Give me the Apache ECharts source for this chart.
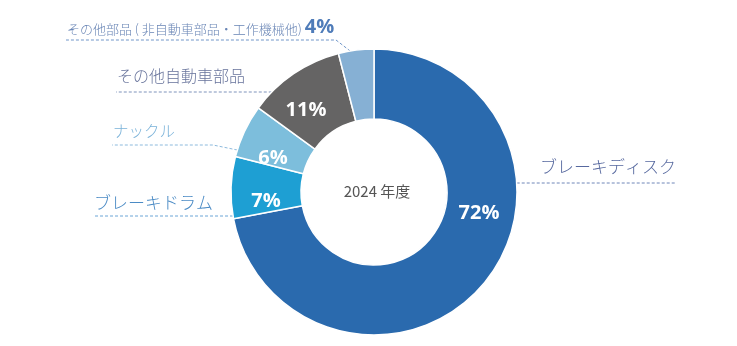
<!DOCTYPE html>
<html>
<head>
<meta charset="utf-8">
<script src="https://cdn.jsdelivr.net/npm/echarts@6/dist/echarts.min.js"></script>
<style>
  html, body { margin: 0; padding: 0; background: #ffffff; }
  #chart { width: 737px; height: 346px; }
</style>
</head>
<body>
<div id="chart"></div>
<script>
// Share of sales by product, fiscal 2024 (%)
const categories = ['ブレーキディスク', 'ブレーキドラム', 'ナックル', 'その他自動車部品', 'その他部品 ( 非自動車部品・工作機械他)'];
const shares = [72, 7, 6, 11, 4];
const yearLabel = '2024 年度';

// Styling
const sliceColors = ['#2a6aae', '#1e9fd3', '#7dbedc', '#656464', '#86b0d4'];
const nameColors  = ['#57699f', '#4b8bc5', '#7ab2d9', '#67739b', '#6a86b6'];
const lineColors  = ['#6f86b8', '#6aa5d6', '#8dbadd', '#7f93bb', '#7096c9'];
const nameFontSizes = [17, 17, 15.5, 16, 13];

const CX = 374, CY = 192, R_IN = 73, R_OUT = 143;
const JP_FONT = '"Noto Sans CJK JP", "Noto Sans", sans-serif';
const NUM_FONT = '"Open Sans", "Noto Sans", sans-serif';

// Where the percentage inside each ring segment sits (null = shown outside instead)
const pctAnchors = [[479, 213], [266, 201], [273, 158], [306, 110], null];

// Callout layout: which side, underline height, far end of underline,
// optional bend point, height where the leader meets the ring, text centre height
const calloutLayout = [
  { side: 'right', lineY: 183, endX: 676, edgeY: 183, textY: 167 },
  { side: 'left',  lineY: 216, endX: 93,  edgeY: 216, textY: 203 },
  { side: 'left',  lineY: 145, endX: 112, elbowX: 213, edgeY: 150, textY: 131 },
  { side: 'left',  lineY: 92,  endX: 116, edgeY: 92,  textY: 76 },
  { side: 'left',  lineY: 40,  endX: 66,  elbowX: 336, edgeY: 51, textY: 27 }
];

const ringData = categories.map((name, i) => ({
  name: name,
  value: shares[i],
  itemStyle: { color: sliceColors[i] },
  label: { show: pctAnchors[i] !== null }
}));

const calloutData = categories.map((name, i) => ({
  name: name,
  value: shares[i],
  label: { color: nameColors[i], fontSize: nameFontSizes[i] },
  labelLine: { lineStyle: { color: lineColors[i] } }
}));

const chart = echarts.init(document.getElementById('chart'), null, { renderer: 'canvas' });

chart.setOption({
  animation: false,
  backgroundColor: '#ffffff',
  series: [
    {
      name: 'ring',
      type: 'pie',
      center: [CX, CY],
      radius: [R_IN, R_OUT],
      startAngle: 90,
      clockwise: true,
      avoidLabelOverlap: false,
      silent: true,
      itemStyle: { borderColor: '#ffffff', borderWidth: 1.5 },
      label: {
        position: 'inside',
        formatter: '{c}%',
        color: '#ffffff',
        fontFamily: NUM_FONT,
        fontWeight: 'bold',
        fontSize: 20
      },
      labelLine: { show: false },
      labelLayout: function (p) {
        const a = pctAnchors[p.dataIndex];
        if (!a) return {};
        return { x: a[0], y: a[1], align: 'center', verticalAlign: 'middle' };
      },
      data: ringData
    },
    {
      name: 'callouts',
      type: 'pie',
      center: [CX, CY],
      radius: [R_IN, R_OUT],
      startAngle: 90,
      clockwise: true,
      avoidLabelOverlap: false,
      silent: true,
      itemStyle: { color: 'rgba(0,0,0,0)', borderWidth: 0 },
      label: {
        position: 'outside',
        fontFamily: JP_FONT,
        fontWeight: 300,
        formatter: function (p) {
          if (p.dataIndex === 4) {
            return '{n|' + p.name + '} {p|' + p.value + '%}';
          }
          return p.name;
        },
        rich: {
          n: { fontFamily: JP_FONT, fontWeight: 300, fontSize: 13, color: nameColors[4], verticalAlign: 'bottom', padding: [0, 0, 1, 0] },
          p: { fontFamily: NUM_FONT, fontSize: 20, fontWeight: 'bold', color: '#4f7cb9', verticalAlign: 'bottom' }
        }
      },
      labelLine: {
        show: true,
        length: 10,
        length2: 10,
        smooth: false,
        lineStyle: { type: [3, 2], width: 1 }
      },
      labelLayout: function (p) {
        const L = calloutLayout[p.dataIndex];
        const dy = L.edgeY - CY;
        const ex = Math.sqrt(R_OUT * R_OUT - dy * dy);
        const startX = L.side === 'right' ? CX + ex : CX - ex;
        const pts = [[startX, L.edgeY]];
        pts.push([L.elbowX != null ? L.elbowX : (startX + L.endX) / 2, L.lineY]);
        pts.push([L.endX, L.lineY]);
        return {
          x: L.side === 'right' ? L.endX : L.endX + 1,
          y: L.textY,
          align: L.side === 'right' ? 'right' : 'left',
          verticalAlign: 'middle',
          labelLinePoints: pts
        };
      },
      data: calloutData
    }
  ],
  graphic: [
    {
      type: 'text',
      x: CX + 3,
      y: CY - 1,
      style: {
        text: yearLabel,
        fill: '#555555',
        font: '15px ' + JP_FONT,
        align: 'center',
        verticalAlign: 'middle'
      }
    }
  ]
});
</script>
</body>
</html>
